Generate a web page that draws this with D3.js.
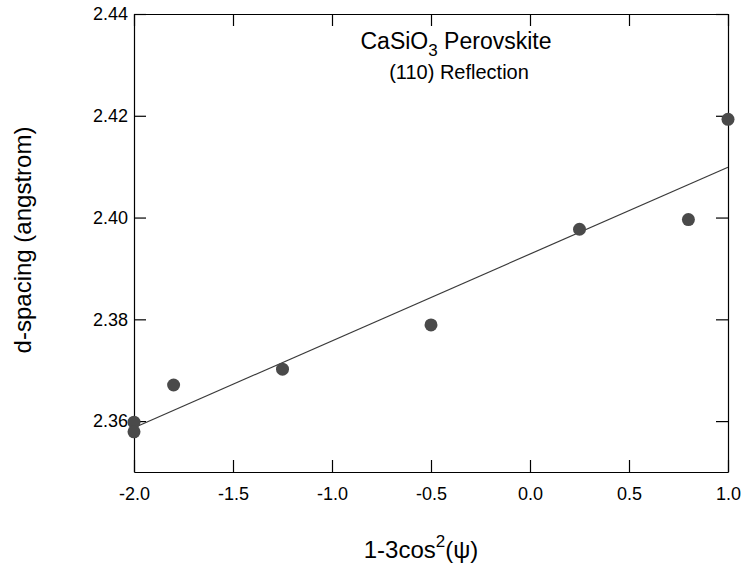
<!DOCTYPE html>
<html><head><meta charset="utf-8">
<script src="https://cdn.jsdelivr.net/npm/d3@7"></script>
<style>body{margin:0;background:#fff;} text{font-family:Arial,"Liberation Sans",sans-serif;}</style>
</head><body>
<svg id="c" width="742" height="567"></svg>
<script>
const xValues = [-2.0, -2.0, -1.8, -1.25, -0.5, 0.25, 0.8, 1.0];
const yValues = [2.3598, 2.3579, 2.3671, 2.3702, 2.3789, 2.3977, 2.3996, 2.4193];
const fitX = [-2.0, 1.0];
const fitY = [2.3587, 2.4099];
const xTicks = [-2.0, -1.5, -1.0, -0.5, 0.0, 0.5, 1.0];
const yTicks = [2.36, 2.38, 2.40, 2.42, 2.44];

const svg = d3.select("#c");
const L = 134, R = 728, T = 14, B = 472;
const x = d3.scaleLinear().domain([-2, 1]).range([L, R]);
const y = d3.scaleLinear().domain([2.35, 2.44]).range([B, T]);
const fx = d => d.toFixed(1).replace("\u2212", "-");
const fy = d => d.toFixed(2);

const tl = 12;
svg.append("g").attr("transform", `translate(0,${B})`)
  .call(d3.axisBottom(x).tickValues(xTicks).tickSizeInner(-tl).tickSizeOuter(0).tickPadding(tl+3).tickFormat(fx));
svg.append("g").attr("transform", `translate(0,${T})`)
  .call(d3.axisTop(x).tickValues(xTicks).tickSizeInner(-tl).tickSizeOuter(0).tickFormat(""));
svg.append("g").attr("transform", `translate(${L},0)`)
  .call(d3.axisLeft(y).tickValues(yTicks).tickSizeInner(-tl).tickSizeOuter(0).tickPadding(6).tickFormat(fy));
svg.append("g").attr("transform", `translate(${R},0)`)
  .call(d3.axisRight(y).tickValues(yTicks).tickSizeInner(-tl).tickSizeOuter(0).tickFormat(""));
svg.selectAll("g").attr("font-family", null).attr("font-size", null);
svg.selectAll(".domain").attr("stroke", "#000").attr("stroke-width", 1.2);
svg.selectAll(".tick line").attr("stroke", "#000").attr("stroke-width", 1.2);
svg.selectAll(".tick text").attr("font-size", 18).attr("fill", "#000");

svg.append("line")
  .attr("x1", x(fitX[0])).attr("y1", y(fitY[0]))
  .attr("x2", x(fitX[1])).attr("y2", y(fitY[1]))
  .attr("stroke", "#3a3a3a").attr("stroke-width", 1.2);

svg.selectAll("circle.pt").data(xValues.map((v,i)=>[v, yValues[i]])).enter()
  .append("circle").attr("class","pt")
  .attr("cx", d=>x(d[0])).attr("cy", d=>y(d[1])).attr("r", 6.5)
  .attr("fill", "#4a4a4a");

const t1 = svg.append("text").attr("x", 456).attr("y", 49).attr("text-anchor","middle").attr("font-size", 23).attr("fill","#000");
t1.append("tspan").text("CaSiO");
t1.append("tspan").text("3").attr("font-size", 17).attr("dy", 7);
t1.append("tspan").text(" Perovskite").attr("dy", -7);
svg.append("text").attr("x", 459).attr("y", 79).attr("text-anchor","middle").attr("font-size", 20).attr("fill","#000").text("(110) Reflection");

const xt = svg.append("text").attr("x", 421).attr("y", 558).attr("text-anchor","middle").attr("font-size", 24).attr("fill","#000");
xt.append("tspan").text("1-3cos");
xt.append("tspan").text("2").attr("font-size", 17).attr("dy", -11);
xt.append("tspan").text("(ψ)").attr("dy", 11);

svg.append("text").attr("transform", "translate(31,240) rotate(-90)").attr("text-anchor","middle")
  .attr("font-size", 24).attr("fill","#000").text("d-spacing (angstrom)");
</script>
</body></html>
